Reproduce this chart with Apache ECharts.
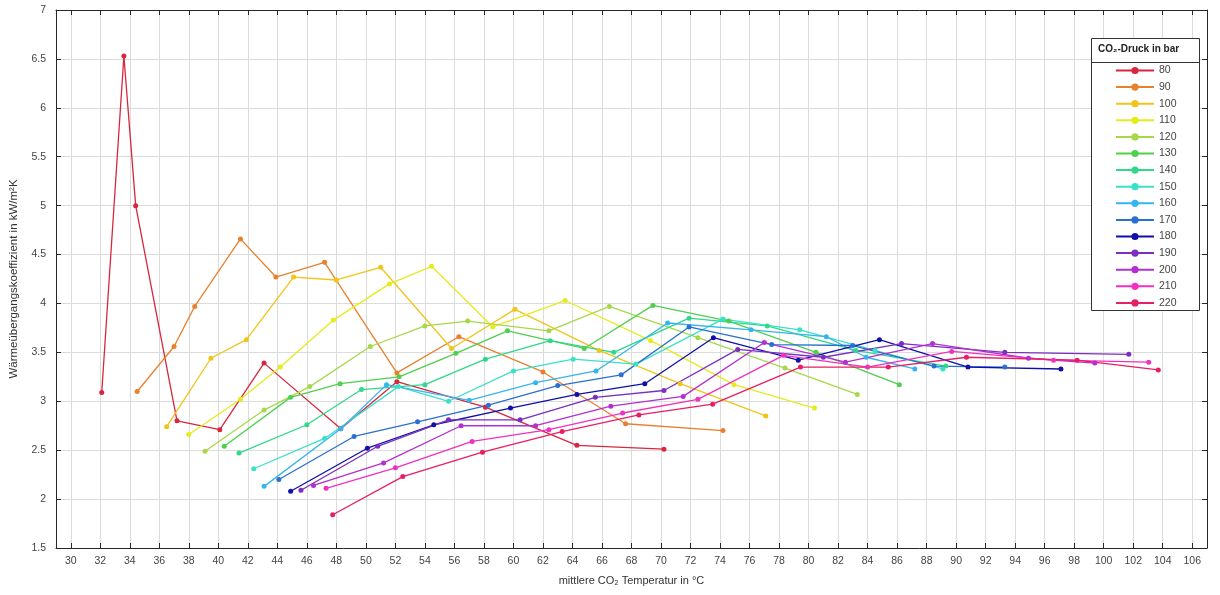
<!DOCTYPE html>
<html>
<head>
<meta charset="utf-8">
<script src="https://cdn.jsdelivr.net/npm/echarts@6/dist/echarts.min.js"></script>
<style>
  html, body { margin: 0; padding: 0; background: #fff; }
  #chart { width: 1220px; height: 595px; }
</style>
</head>
<body>
<div id="chart"></div>
<script>
// CO2-Druck in bar
var pressures = ["80", "90", "100", "110", "120", "130", "140", "150", "160", "170", "180", "190", "200", "210", "220"];
var colors = ["#d7263d", "#e8802c", "#f0c419", "#e4ec1e", "#a6d84a", "#4fcf4f", "#2fd88a", "#3ae0c8",
              "#34b4f0", "#2a6fd2", "#1010a8", "#7a2fc0", "#b22fd0", "#f030c0", "#e81e64"];

var xTicks = [30, 32, 34, 36, 38, 40, 42, 44, 46, 48, 50, 52, 54, 56, 58, 60, 62, 64, 66, 68,
              70, 72, 74, 76, 78, 80, 82, 84, 86, 88, 90, 92, 94, 96, 98, 100, 102, 104, 106];

// [mittlere CO2 Temperatur °C, Wärmeübergangskoeffizient kW/m²K]
var p80  = [[32.1,3.09],[33.6,6.53],[34.4,5.0],[37.2,2.80],[40.1,2.71],[43.1,3.39],[48.3,2.72],[52.1,3.20],[58.1,2.94],[64.3,2.55],[70.2,2.51]];
var p90  = [[34.5,3.10],[37.0,3.56],[38.4,3.97],[41.5,4.66],[43.9,4.27],[47.2,4.42],[52.1,3.29],[56.3,3.66],[62.0,3.30],[67.6,2.77],[74.2,2.70]];
var p100 = [[36.5,2.74],[39.5,3.44],[41.9,3.63],[45.1,4.27],[48.0,4.24],[51.0,4.37],[55.8,3.54],[60.1,3.94],[65.8,3.52],[71.3,3.18],[77.1,2.85]];
var p110 = [[38.0,2.66],[41.5,3.02],[44.2,3.35],[47.8,3.83],[51.6,4.20],[54.45,4.38],[58.6,3.76],[63.5,4.03],[69.3,3.62],[74.95,3.17],[80.4,2.93]];
var p120 = [[39.1,2.49],[43.1,2.91],[46.2,3.15],[50.3,3.56],[54.0,3.77],[56.9,3.82],[62.4,3.72],[66.5,3.97],[72.5,3.65],[78.4,3.34],[83.3,3.07]];
var p130 = [[40.4,2.54],[44.9,3.04],[48.25,3.18],[52.25,3.25],[56.1,3.49],[59.6,3.72],[64.8,3.54],[69.45,3.98],[74.6,3.82],[80.5,3.50],[86.15,3.17]];
var p140 = [[41.4,2.47],[46.0,2.76],[49.7,3.12],[54.0,3.17],[58.1,3.43],[62.5,3.62],[66.8,3.50],[71.9,3.85],[77.2,3.77],[83.2,3.52],[89.3,3.36]];
var p150 = [[42.4,2.31],[47.2,2.62],[52.2,3.15],[55.6,3.00],[60.0,3.31],[64.05,3.43],[68.3,3.38],[74.2,3.84],[79.4,3.73],[84.5,3.52],[89.1,3.33]];
var p160 = [[43.1,2.13],[48.3,2.72],[51.4,3.17],[57.0,3.01],[61.5,3.19],[65.6,3.31],[70.45,3.80],[76.1,3.73],[81.2,3.66],[83.9,3.45],[87.2,3.33]];
var p170 = [[44.1,2.20],[49.2,2.64],[53.5,2.79],[58.3,2.96],[63.0,3.16],[67.3,3.27],[71.9,3.76],[77.5,3.58],[83.0,3.57],[88.5,3.36],[93.3,3.35]];
var p180 = [[44.9,2.08],[50.1,2.52],[54.6,2.76],[59.8,2.93],[64.3,3.07],[68.9,3.18],[73.55,3.65],[79.3,3.42],[84.8,3.63],[90.8,3.35],[97.1,3.33]];
var p190 = [[45.6,2.09],[50.8,2.54],[55.6,2.81],[60.45,2.81],[65.55,3.04],[70.2,3.11],[75.2,3.53],[81.0,3.45],[86.3,3.59],[93.3,3.50],[101.7,3.48]];
var p200 = [[46.45,2.14],[51.2,2.37],[56.45,2.75],[61.5,2.75],[66.6,2.95],[71.5,3.05],[77.0,3.60],[82.5,3.40],[88.4,3.59],[94.9,3.44],[99.4,3.39]];
var p210 = [[47.3,2.11],[52.0,2.32],[57.2,2.59],[62.4,2.71],[67.4,2.88],[72.5,3.02],[78.3,3.47],[84.0,3.35],[89.7,3.51],[96.6,3.42],[103.05,3.40]];
var p220 = [[47.75,1.84],[52.5,2.23],[57.9,2.48],[63.3,2.69],[68.5,2.86],[73.5,2.97],[79.45,3.35],[85.4,3.35],[90.7,3.45],[98.2,3.42],[103.7,3.32]];

var allData = [p80, p90, p100, p110, p120, p130, p140, p150, p160, p170, p180, p190, p200, p210, p220];

var axisColor = "#262626";
var fontFam = "Liberation Sans, Arial, sans-serif";

var series = pressures.map(function (p, i) {
  return {
    name: p,
    type: "line",
    data: allData[i],
    symbol: "circle",
    symbolSize: 5,
    lineStyle: { width: 1.3, color: colors[i] },
    itemStyle: { color: colors[i] },
    animation: false
  };
});

var myChart = echarts.init(document.getElementById("chart"));
var option = {
  animation: false,
  color: colors,
  grid: { left: 56, right: 13, top: 10, bottom: 47 },
  xAxis: [
    {
      type: "value", min: 29, max: 107, position: "bottom",
      name: "mittlere CO\u2082 Temperatur in \u00b0C",
      nameLocation: "middle", nameGap: 27,
      nameTextStyle: { fontSize: 11, color: "#333", fontFamily: fontFam },
      axisLine: { show: true, lineStyle: { color: axisColor, width: 1 } },
      axisTick: { show: true, inside: true, length: 5, customValues: xTicks, lineStyle: { color: axisColor } },
      axisLabel: { customValues: xTicks, fontSize: 10.5, color: "#444", margin: 8, fontFamily: fontFam },
      splitLine: { show: true, lineStyle: { color: "#dcdcdc", width: 1 } }
    },
    {
      type: "value", min: 29, max: 107, position: "top",
      axisLine: { show: true, lineStyle: { color: axisColor, width: 1 } },
      axisTick: { show: true, inside: true, length: 5, customValues: xTicks, lineStyle: { color: axisColor } },
      axisLabel: { show: false },
      splitLine: { show: false }
    }
  ],
  yAxis: [
    {
      type: "value", min: 1.5, max: 7, interval: 0.5, position: "left",
      name: "W\u00e4rme\u00fcbergangskoeffizient in kW/m\u00b2K",
      nameLocation: "middle", nameGap: 36, nameRotate: 90,
      nameTextStyle: { fontSize: 11.5, color: "#333", fontFamily: fontFam },
      axisLine: { show: true, lineStyle: { color: axisColor, width: 1 } },
      axisTick: { show: true, inside: true, length: 5, lineStyle: { color: axisColor } },
      axisLabel: { fontSize: 10.5, color: "#444", margin: 10, fontFamily: fontFam },
      splitLine: { show: true, lineStyle: { color: "#dcdcdc", width: 1 } }
    },
    {
      type: "value", min: 1.5, max: 7, interval: 0.5, position: "right",
      axisLine: { show: true, lineStyle: { color: axisColor, width: 1 } },
      axisTick: { show: true, inside: true, length: 5, lineStyle: { color: axisColor } },
      axisLabel: { show: false },
      splitLine: { show: false }
    }
  ],
  legend: {
    orient: "vertical",
    left: 1110,
    top: 60,
    z: 10,
    itemWidth: 38,
    itemHeight: 9,
    itemGap: 5.6,
    textStyle: { fontSize: 10.5, color: "#444", fontFamily: fontFam },
    data: pressures
  },
  graphic: {
    elements: [
      { type: "rect", z: 5, shape: { x: 1091.5, y: 38.5, width: 108, height: 272 },
        style: { fill: "#fff", stroke: "#333", lineWidth: 1 } },
      { type: "line", z: 6, shape: { x1: 1091.5, y1: 62.5, x2: 1199.5, y2: 62.5 },
        style: { stroke: "#333", lineWidth: 1 } },
      { type: "text", z: 6, left: 1098, top: 44,
        style: { text: "CO\u2082-Druck in bar", font: "bold 10px " + fontFam, fill: "#222" } }
    ]
  },
  series: series
};
myChart.setOption(option);
</script>
</body>
</html>
